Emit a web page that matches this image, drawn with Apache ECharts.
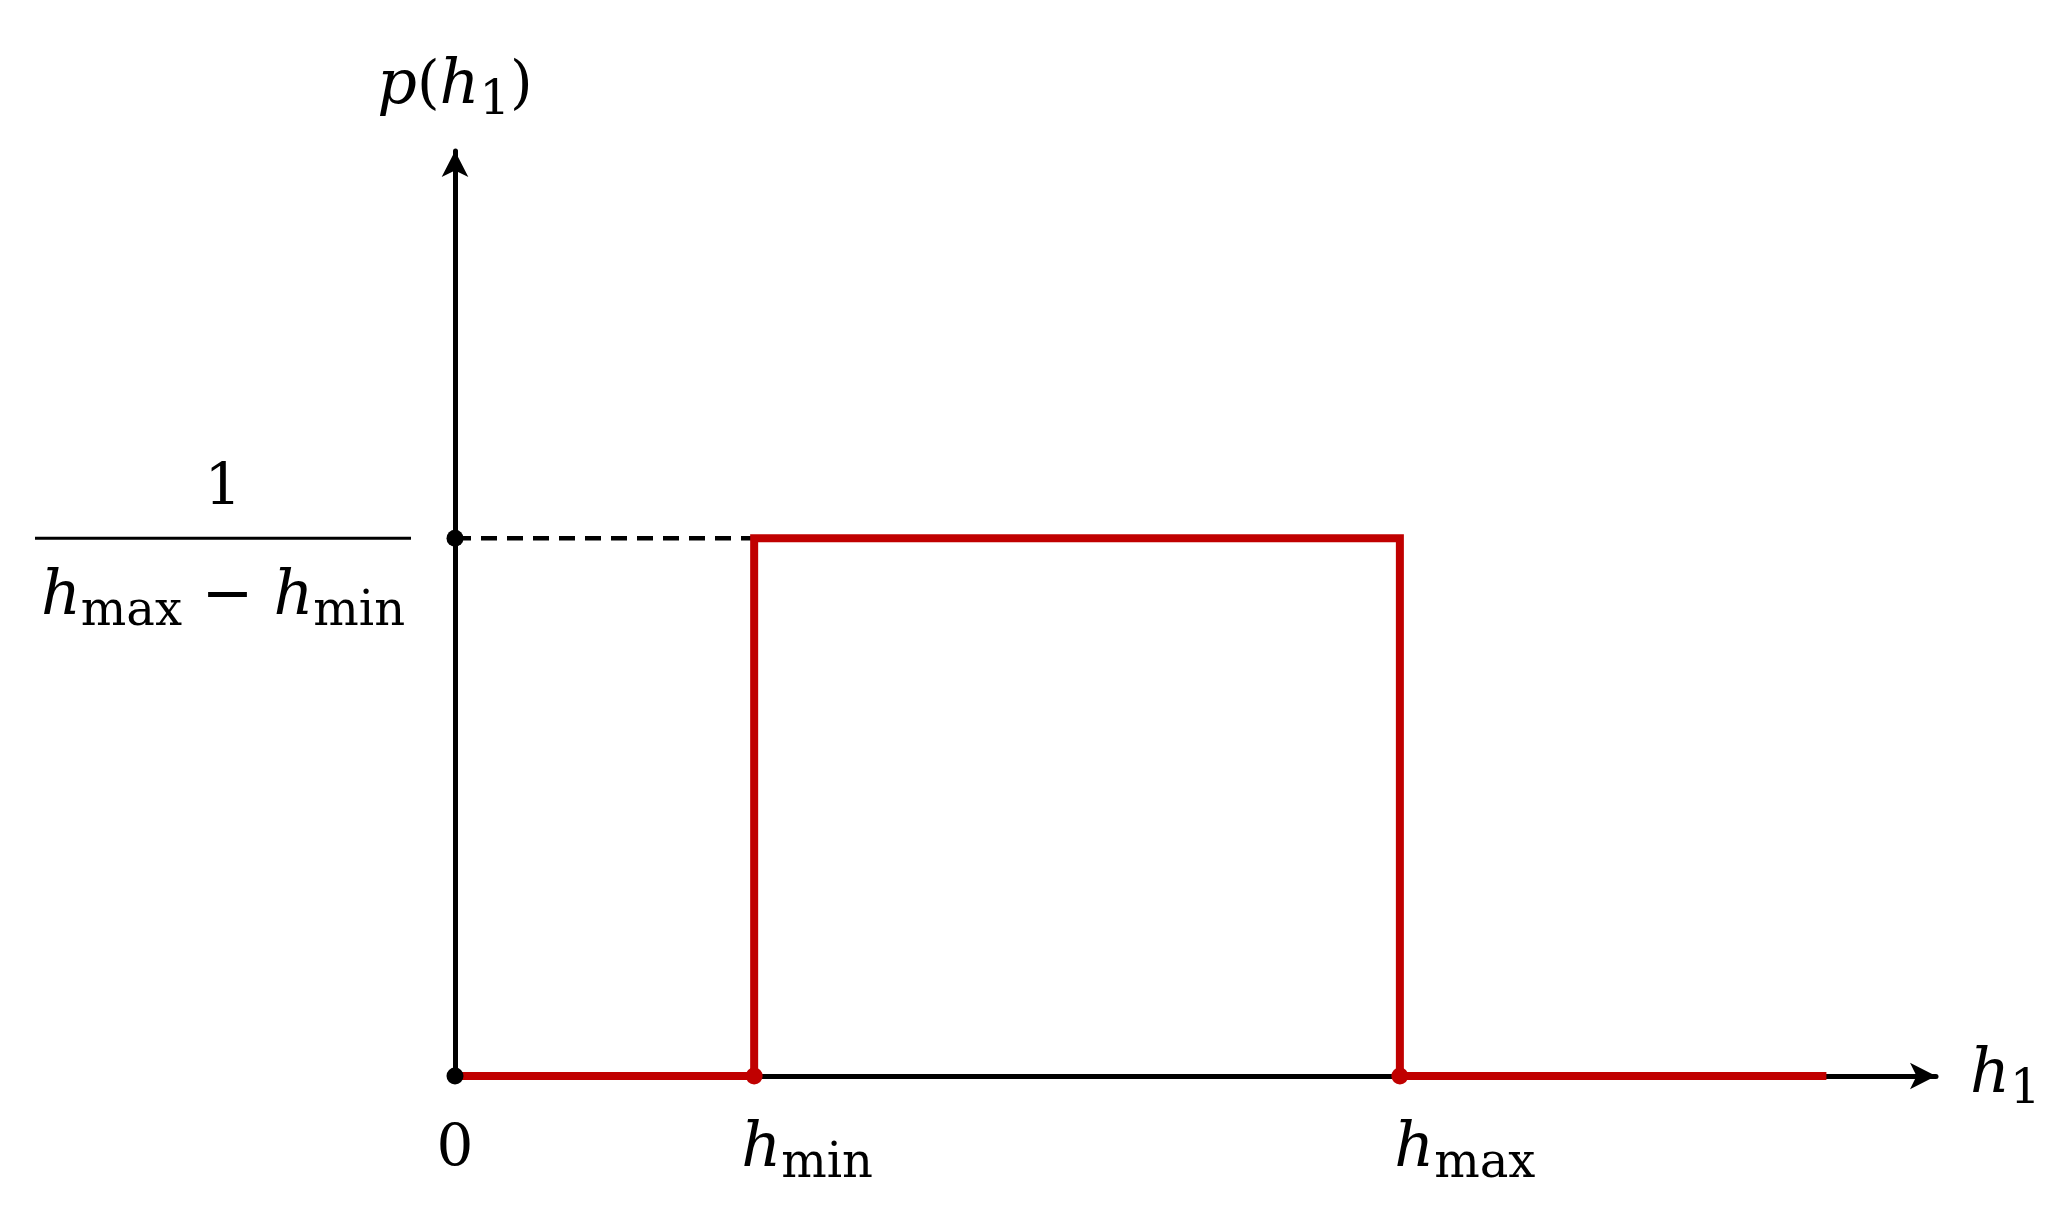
<!DOCTYPE html>
<html>
<head>
<meta charset="utf-8">
<script src="https://cdn.jsdelivr.net/npm/echarts@6/dist/echarts.min.js"></script>
<style>
  html, body { margin: 0; padding: 0; background: #fff; }
  #main { width: 2068px; height: 1228px; }
</style>
</head>
<body>
<div id="main"></div>
<script>
  // uniform density p(h1): 0 below hmin, flat level up to hmax, 0 after
  var hMin = 2.02;
  var hMax = 6.38;
  var hEnd = 9.26;
  var level = 1;
  var xMaxVal = 10;
  var yMaxVal = 1.72;
  var stepX = [0, hMin, hMin, hMax, hMax, hEnd];
  var stepY = [0, 0, level, level, 0, 0];
  var redDotX = [hMin, hMax];
  var blackDotY = [0, level];
  var dashX = [0, hMin];
  var xTickVals = [0, hMin, hMax];
  var yTickVals = [level];

  var RED = '#C00000';
  var SERIF = 'DejaVu Serif';
  var BIG = 62, NUM = 58, SMALL = 48;

  function zip(xs, ys) {
    return xs.map(function (x, i) { return [x, ys[i]]; });
  }

  // rich styles shared by axis labels and names; dy pushes a whole line down
  function richSet(lh, center, dy) {
    var a = center ? 'center' : undefined;
    dy = dy || 0;
    return {
      n: { fontFamily: SERIF, fontSize: NUM, color: '#000', lineHeight: lh, align: a },
      num: { fontFamily: SERIF, fontSize: NUM, color: '#000', lineHeight: lh, align: a, padding: [16, 0, 0, 0] },
      i: { fontFamily: SERIF, fontSize: BIG, fontStyle: 'italic', color: '#000', lineHeight: lh, align: a, padding: [dy, 0, 0, 0] },
      s: { fontFamily: SERIF, fontSize: SMALL, color: '#000', lineHeight: lh, padding: [30 + dy, 0, 0, 0], align: a },
      op: { fontFamily: SERIF, fontSize: BIG, color: '#000', lineHeight: lh, align: a, padding: [dy, 0, 0, 0] },
      spMin: { width: 106, lineHeight: lh },
      spMax: { width: 130, lineHeight: lh },
      bar: { width: 376, height: 3, lineHeight: 3, fontSize: 2, backgroundColor: '#000', align: a }
    };
  }

  var chart = echarts.init(document.getElementById('main'));
  chart.setOption({
    backgroundColor: '#fff',
    animation: false,
    grid: { left: 455, right: 132, top: 151, bottom: 152, outerBoundsMode: 'none' },
    xAxis: {
      type: 'value',
      min: 0,
      max: xMaxVal,
      name: '{i|h}{s|1}',
      nameLocation: 'end',
      nameGap: 34,
      nameTextStyle: { rich: richSet(70), verticalAlign: 'middle' },
      axisLine: {
        onZero: true,
        symbol: ['none', 'arrow'],
        symbolSize: [20, 26],
        lineStyle: { color: '#000', width: 5 }
      },
      axisTick: { show: false },
      splitLine: { show: false },
      axisLabel: {
        customValues: xTickVals,
        margin: 39,
        formatter: function (v) {
          if (Math.abs(v) < 1e-9) return '{n|0}';
          if (Math.abs(v - hMin) < 1e-9) return '{spMin| }{i|h}{s|min}';
          return '{spMax| }{i|h}{s|max}';
        },
        rich: richSet(70)
      }
    },
    yAxis: {
      type: 'value',
      min: 0,
      max: yMaxVal,
      name: '{i|p}{n|(}{i|h}{s|1}{n|)}',
      nameLocation: 'end',
      nameGap: 64,
      nameTextStyle: { rich: richSet(70), verticalAlign: 'middle', align: 'center' },
      axisLine: {
        symbol: ['none', 'arrow'],
        symbolSize: [20, 26],
        lineStyle: { color: '#000', width: 5 }
      },
      axisTick: { show: false },
      splitLine: { show: false },
      axisLabel: {
        customValues: yTickVals,
        margin: 44,
        align: 'right',
        formatter: function () {
          return '{num|1}\n{bar| }\n{i|h}{s|max}{op| − }{i|h}{s|min}';
        },
        rich: richSet(112, true, 4)
      }
    },
    series: [
      {
        type: 'line',
        data: zip(dashX, [level, level]),
        showSymbol: false,
        z: 3,
        lineStyle: { color: '#000', width: 4.5, type: [16, 10] }
      },
      {
        type: 'line',
        data: zip(stepX, stepY),
        showSymbol: false,
        z: 4,
        lineStyle: { color: RED, width: 8, cap: 'butt', join: 'miter' }
      },
      {
        type: 'scatter',
        data: zip(redDotX, [0, 0]),
        symbolSize: 17,
        z: 5,
        itemStyle: { color: RED, opacity: 1 }
      },
      {
        type: 'scatter',
        data: zip([0, 0], blackDotY),
        symbolSize: 17,
        z: 6,
        itemStyle: { color: '#000', opacity: 1 }
      }
    ]
  });
</script>
</body>
</html>
